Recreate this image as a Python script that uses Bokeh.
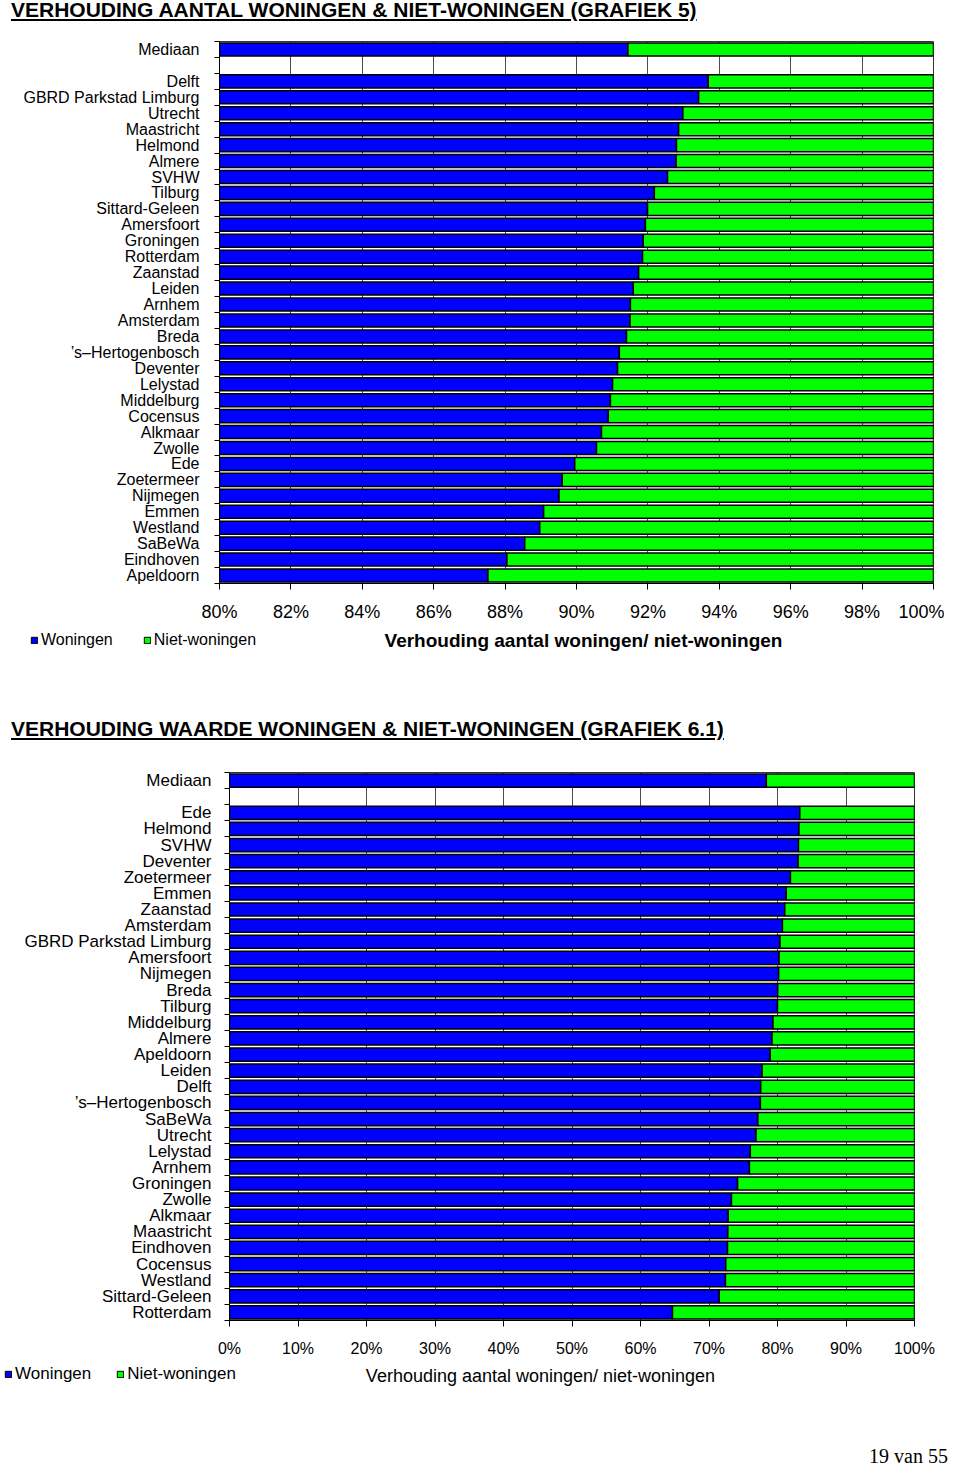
from bokeh.plotting import figure
from bokeh.models import (Range1d, FixedTicker, PrintfTickFormatter, Legend,
                          LegendItem, Div, ColumnDataSource, Label)
from bokeh.layouts import column
from bokeh.embed import file_html
from bokeh.resources import INLINE

# ---------------- data: grafiek 5 (aantal) ----------------
top_title = "VERHOUDING AANTAL WONINGEN &amp; NIET-WONINGEN (GRAFIEK 5)"
top_cities = ["Delft", "GBRD Parkstad Limburg", "Utrecht", "Maastricht", "Helmond",
              "Almere", "SVHW", "Tilburg", "Sittard-Geleen", "Amersfoort", "Groningen",
              "Rotterdam", "Zaanstad", "Leiden", "Arnhem", "Amsterdam", "Breda",
              "’s–Hertogenbosch", "Deventer", "Lelystad", "Middelburg", "Cocensus",
              "Alkmaar", "Zwolle", "Ede", "Zoetermeer", "Nijmegen", "Emmen", "Westland",
              "SaBeWa", "Eindhoven", "Apeldoorn"]
top_woningen = [93.69, 93.42, 92.98, 92.86, 92.80, 92.79, 92.55, 92.18, 91.99, 91.93,
                91.87, 91.85, 91.74, 91.59, 91.51, 91.50, 91.40, 91.20, 91.15, 91.01,
                90.95, 90.89, 90.70, 90.56, 89.95, 89.60, 89.51, 89.08, 88.97, 88.55,
                88.05, 87.52]
top_mediaan = 91.44
top_ticks = [80, 82, 84, 86, 88, 90, 92, 94, 96, 98, 100]

# ---------------- data: grafiek 6.1 (waarde) ----------------
bot_title = "VERHOUDING WAARDE WONINGEN &amp; NIET-WONINGEN (GRAFIEK 6.1)"
bot_cities = ["Ede", "Helmond", "SVHW", "Deventer", "Zoetermeer", "Emmen", "Zaanstad",
              "Amsterdam", "GBRD Parkstad Limburg", "Amersfoort", "Nijmegen", "Breda",
              "Tilburg", "Middelburg", "Almere", "Apeldoorn", "Leiden", "Delft",
              "’s–Hertogenbosch", "SaBeWa", "Utrecht", "Lelystad", "Arnhem", "Groningen",
              "Zwolle", "Alkmaar", "Maastricht", "Eindhoven", "Cocensus", "Westland",
              "Sittard-Geleen", "Rotterdam"]
bot_woningen = [83.26, 83.13, 83.06, 83.00, 81.89, 81.27, 81.06, 80.72, 80.37, 80.23,
                80.17, 80.03, 80.00, 79.34, 79.20, 78.93, 77.75, 77.55, 77.50, 77.13,
                76.86, 76.03, 75.90, 74.17, 73.28, 72.80, 72.75, 72.70, 72.45, 72.40,
                71.49, 64.67]
bot_mediaan = 78.37
bot_ticks = [0, 10, 20, 30, 40, 50, 60, 70, 80, 90, 100]

series_labels = ["Woningen", "Niet-woningen"]
x_title = "Verhouding aantal woningen/ niet-woningen"
footer = "19 van 55"

BLUE = "#0000FF"
GREEN = "#00FF00"
FONT = "Liberation Sans"
W = 944


def make_chart(cities, woningen, mediaan, ticks, borders, frame_h, sizes, ystand, xstand):
    names = ["Mediaan", ""] + cities
    shares = [mediaan, None] + woningen
    n = len(names)
    ys = [n - 1 - i for i in range(n)]
    rows = [(y, nm, s) for y, nm, s in zip(ys, names, shares) if s is not None]
    xmin, xmax = ticks[0], ticks[-1]
    src = ColumnDataSource(dict(
        y=[r[0] for r in rows],
        name=[r[1] for r in rows],
        won=[r[2] for r in rows],
        lo=[xmin] * len(rows),
        hi=[xmax] * len(rows),
    ))
    bl, br, bt, bb = borders
    p = figure(width=W, height=bt + frame_h + bb, output_backend="svg",
               toolbar_location=None, title=None,
               x_range=Range1d(xmin, xmax), y_range=Range1d(-0.5, n - 0.5),
               min_border_left=bl, min_border_right=br, min_border_top=bt,
               min_border_bottom=bb, background_fill_color="white")
    p.hbar(y="y", left="lo", right="won", height=0.82, fill_color=BLUE,
           line_color="black", line_width=1.5, source=src)
    p.hbar(y="y", left="won", right="hi", height=0.82, fill_color=GREEN,
           line_color="black", line_width=1.5, source=src)

    ylab, xlab = sizes
    ya = p.yaxis[0]
    ya.ticker = FixedTicker(ticks=[r[0] for r in rows],
                            minor_ticks=[k - 0.5 for k in range(n + 1)])
    ya.major_label_overrides = {r[0]: r[1] for r in rows}
    ya.major_tick_line_color = None
    ya.minor_tick_in = 0
    ya.minor_tick_out = 5
    ya.minor_tick_line_color = "black"
    ya.axis_line_color = "black"
    ya.major_label_standoff = ystand
    ya.major_label_text_font = FONT
    ya.major_label_text_font_size = f"{ylab}px"
    ya.major_label_text_color = "black"
    p.ygrid.grid_line_color = None

    xa = p.xaxis[0]
    xa.ticker = FixedTicker(ticks=ticks)
    xa.formatter = PrintfTickFormatter(format="%d%%")
    xa.major_tick_in = 0
    xa.major_tick_out = 6
    xa.minor_tick_line_color = None
    xa.axis_line_color = "black"
    xa.major_label_standoff = xstand
    xa.major_label_text_font = FONT
    xa.major_label_text_font_size = f"{xlab}px"
    xa.major_label_text_color = "black"
    p.xgrid.grid_line_color = "#4d4d4d"
    p.xgrid.grid_line_width = 1
    p.outline_line_color = "#333333"
    return p


def make_strip(height, leg_x, leg_size, spacing, title_x, title_size, title_bold):
    s = figure(width=W, height=height, output_backend="svg", toolbar_location=None,
               title=None, x_axis_type=None, y_axis_type=None,
               x_range=Range1d(0, W), y_range=Range1d(0, height),
               min_border=0, outline_line_color=None)
    s.xgrid.grid_line_color = None
    s.ygrid.grid_line_color = None
    # legend-only renderers (no visible data)
    nan = float("nan")
    dummy = ColumnDataSource(dict(y=[nan], l=[nan], r=[nan]))
    rb = s.hbar(y="y", left="l", right="r", height=1, fill_color=BLUE,
                line_color="black", line_width=1, source=dummy)
    rg = s.hbar(y="y", left="l", right="r", height=1, fill_color=GREEN,
                line_color="black", line_width=1, source=dummy)
    legend = Legend(items=[LegendItem(label=series_labels[0], renderers=[rb]),
                           LegendItem(label=series_labels[1], renderers=[rg])],
                    location=(leg_x, height / 2 - 9), orientation="horizontal",
                    glyph_width=8, glyph_height=8, label_standoff=3, spacing=spacing,
                    padding=0, margin=0, border_line_color=None,
                    background_fill_alpha=0, label_text_font=FONT,
                    label_text_color="black",
                    label_text_font_size=f"{leg_size}px", label_height=18)
    s.add_layout(legend)
    s.add_layout(Label(x=title_x, y=height / 2, text=x_title, text_align="center",
                       text_baseline="middle", text_font=FONT,
                       text_font_size=f"{title_size}px",
                       text_font_style="bold" if title_bold else "normal",
                       text_color="black"))
    return s


fig1 = make_chart(top_cities, top_woningen, top_mediaan, top_ticks,
                  (219, 11, 9, 40), 543, (16, 18), 14, 12)
strip1 = make_strip(32, 30, 16, 30, 583, 19, True)
fig2 = make_chart(bot_cities, bot_woningen, bot_mediaan, bot_ticks,
                  (229, 30, 26, 39), 548, (17, 16), 12, 13)
strip2 = make_strip(32, 4, 17, 25, 540, 18, False)

title_css = ("font-family:'Liberation Sans',Arial,sans-serif;font-weight:bold;"
             "font-size:21px;line-height:22px;text-decoration:underline;"
             "white-space:nowrap;color:black;")
div1 = Div(text=f'<div style="{title_css}position:relative;top:-6px;left:6px;">{top_title}</div>',
           width=W, height=22)
div2 = Div(text=f'<div style="{title_css}padding-top:57px;padding-left:6px;">{bot_title}</div>',
           width=W, height=80)
div3 = Div(text=('<div style="font-family:\'Liberation Serif\',serif;font-size:20px;'
                 'text-align:right;width:943px;padding-top:50px;line-height:20px;">'
                 f'{footer}</div>'),
           width=W, height=72)

layout = column(div1, column(fig1), column(strip1), div2, column(fig2), column(strip2),
                div3, spacing=0)
open("out.html", "w").write(file_html(layout, INLINE))
